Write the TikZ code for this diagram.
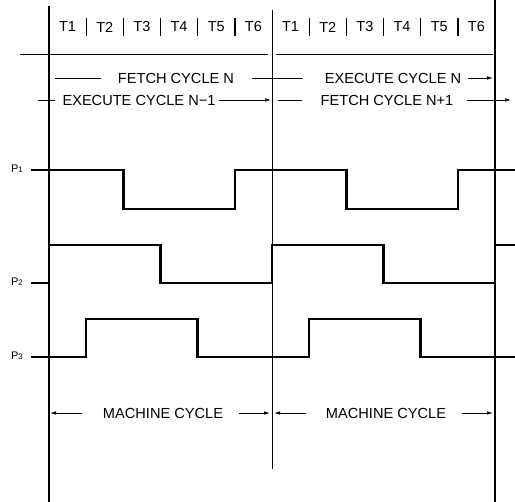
\documentclass[tikz,border=0pt]{standalone}
\usepackage{fontspec}
\setmainfont{Liberation Sans}
\usetikzlibrary{arrows.meta}

\newcommand{\slotw}{37.17}
\newcommand{\phs}[1]{P{\fontsize{8}{8}\selectfont #1}}

\tikzset{
  sig/.style={line width=2.4pt, line join=miter},
  rule/.style={line width=1.3pt},
  cyc/.style={font=\fontsize{14.6}{16}\selectfont, inner sep=0pt},
  tlbl/.style={font=\fontsize{14.5}{16}\selectfont, inner sep=0pt},
  plbl/.style={font=\fontsize{11}{13}\selectfont, inner sep=0pt},
  tip/.style={-{Latex[length=6pt,width=3.6pt]}},
}

\begin{document}
\begin{tikzpicture}[x=1pt,y=-1pt]
\useasboundingbox (0,0) rectangle (515,502);

% cycle borders
\coordinate (la) at (49,6);   \coordinate (lb) at (49,502);
\coordinate (ma) at (272,10); \coordinate (mb) at (272,469);
\coordinate (ra) at (495,0);  \coordinate (rb) at (495,502);
\path[draw,line width=1.8pt] (la) -- (lb);
\path[draw,line width=1pt] (ma) -- (mb);
\path[draw,line width=1.6pt] (ra) -- (rb);

% T states
\foreach \i in {1,...,6} {
  \node[tlbl] (tl\i) at ({49+(\i-0.5)*\slotw},27) {T\i};
  \node[tlbl] (tr\i) at ({272+(\i-0.5)*\slotw},27) {T\i};
}
\foreach \i in {1,...,5} {
  \path[draw,rule] ({49+\i*\slotw},18) -- ({49+\i*\slotw},36);
  \path[draw,rule] ({272+\i*\slotw},18) -- ({272+\i*\slotw},36);
}
\coordinate (ha) at (20,54);  \coordinate (hb) at (268,54);
\coordinate (hc) at (276,54); \coordinate (hd) at (493,54);
\path[draw,thick] (ha) -- (hb);
\path[draw,thick] (hc) -- (hd);

% fetch / execute
\node[cyc] (fetchN) at (176,78) {FETCH CYCLE N};
\node[cyc] (execN) at (393,78) {EXECUTE CYCLE N};
\node[cyc] (execNm) at (139,100) {EXECUTE CYCLE N−1};
\node[cyc] (fetchNp) at (387,100) {FETCH CYCLE N+1};

\coordinate (f1) at (55,78);  \coordinate (f2) at (303,78);
\coordinate (f3) at (493,78);
\path[draw,thick] (f1) -- ([xshift=-17pt]fetchN.west);
\path[draw,thick] ([xshift=18pt]fetchN.east) -- (f2);
\path[draw,thick,tip] ([xshift=7pt]execN.east) -- (f3);

\coordinate (e1) at (38,100); \coordinate (e2) at (271,100);
\coordinate (e3) at (278,100); \coordinate (e4) at (302,100);
\coordinate (e5) at (511,100);
\path[draw,thick] (e1) -- ([xshift=-7pt]execNm.west);
\path[draw,thick,tip] ([xshift=3pt]execNm.east) -- (e2);
\path[draw,thick] (e3) -- (e4);
\path[draw,thick,tip] ([xshift=13pt]fetchNp.east) -- (e5);

% clock phases
\node[plbl] (p1) at (17,169) {\phs{1}};
\node[plbl] (p2) at (17,282) {\phs{2}};
\node[plbl] (p3) at (17,356) {\phs{3}};

\path[draw,sig] (31,170) -- ({49+2*\slotw},170) -- ({49+2*\slotw},209)
  -- ({49+5*\slotw},209) -- ({49+5*\slotw},170) -- ({272+2*\slotw},170)
  -- ({272+2*\slotw},209) -- ({272+5*\slotw},209) -- ({272+5*\slotw},170)
  -- (515,170);
\path[draw,sig] (31,283) -- (49,283) -- (49,245) -- ({49+3*\slotw},245)
  -- ({49+3*\slotw},283) -- (272,283) -- (272,245) -- ({272+3*\slotw},245)
  -- ({272+3*\slotw},283) -- (495,283) -- (495,245) -- (515,245);
\path[draw,sig] (31,357) -- ({49+\slotw},357) -- ({49+\slotw},319)
  -- ({49+4*\slotw},319) -- ({49+4*\slotw},357) -- ({272+\slotw},357)
  -- ({272+\slotw},319) -- ({272+4*\slotw},319) -- ({272+4*\slotw},357)
  -- (515,357);

% machine cycles
\node[cyc] (mc1) at (163,413) {MACHINE CYCLE};
\node[cyc] (mc2) at (386,413) {MACHINE CYCLE};
\coordinate (m1) at (50,413); \coordinate (m2) at (270,413);
\coordinate (m3) at (274,413); \coordinate (m4) at (493,413);
\path[draw,thick,tip] ([xshift=-21pt]mc1.west) -- (m1);
\path[draw,thick,tip] ([xshift=16pt]mc1.east) -- (m2);
\path[draw,thick,tip] ([xshift=-20pt]mc2.west) -- (m3);
\path[draw,thick,tip] ([xshift=16pt]mc2.east) -- (m4);
\end{tikzpicture}
\end{document}
